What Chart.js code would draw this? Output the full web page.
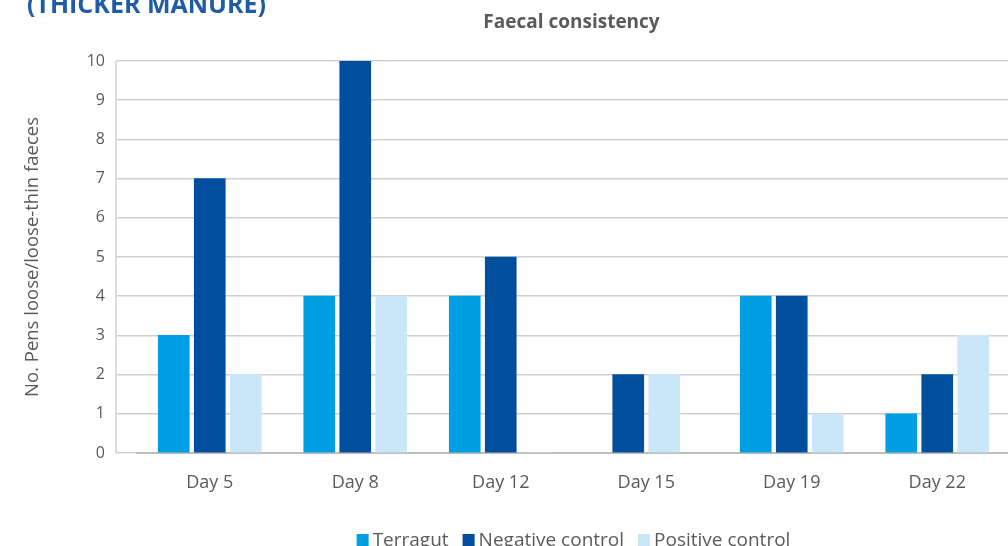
<!DOCTYPE html>
<html>
<head>
<meta charset="utf-8">
<script src="https://cdn.jsdelivr.net/npm/chart.js@4.4.1/dist/chart.umd.min.js"></script>
<style>
  html, body { margin: 0; padding: 0; background: #fff; overflow: hidden; }
  #wrap { position: relative; width: 1012px; height: 546px; }
</style>
</head>
<body>
<div id="wrap"><canvas id="c"></canvas></div>
<script>
'use strict';

// Faecal consistency: pens with loose / loose-thin faeces per treatment.
// Terragut has no value on Day 15 (null), so the two remaining bars of that
// day sit centred on the label; a 0 (Day 12 positive) keeps its slot.

const DAYS       = ['Day 5', 'Day 8', 'Day 12', 'Day 15', 'Day 19', 'Day 22'];
const TERRAGUT   = [3, 4, 4, null, 4, 1];
const NEGATIVE   = [7, 10, 5, 2, 4, 2];
const POSITIVE   = [2, 4, 0, 2, 1, 3];
const SERIES     = ['Terragut', 'Negative control', 'Positive control'];
const COLORS     = ['#009fe3', '#004f9f', '#c9e7f8'];
const Y_TICKS    = [0, 1, 2, 3, 4, 5, 6, 7, 8, 9, 10];

const FONT = '"Open Sans", "DejaVu Sans", sans-serif';
const TEXT = '#5a5a5a';
const GRID = '#d0d0d0';
const SLOT = 0.2474;   // distance between neighbouring bars, in day units

// place each present bar of a day around the day's index
const ALL = [TERRAGUT, NEGATIVE, POSITIVE];
function pointsFor(si) {
  return DAYS.map((_, d) => {
    const present = ALL.map((s, k) => s[d] != null ? k : -1).filter(k => k >= 0);
    const rank = present.indexOf(si);
    if (rank < 0) return {x: d, y: null};
    return {x: d + (rank - (present.length - 1) / 2) * SLOT, y: ALL[si][d]};
  });
}

// ── Text drawn over the chart area (title, header remnant, legend) ──────
const decorPlugin = {
  id: 'decor',
  afterDraw(chart) {
    const {ctx, chartArea} = chart;
    const mid = (chartArea.left + chartArea.right) / 2;
    ctx.save();

    // cut-off section header above the chart
    ctx.font = 'bold 25px ' + FONT;
    ctx.fillStyle = '#1f5ca5';
    ctx.textAlign = 'left';
    ctx.textBaseline = 'alphabetic';
    ctx.fillText('(THICKER MANURE)', 27, 13);

    // chart title
    ctx.font = 'bold 19px ' + FONT;
    ctx.fillStyle = TEXT;
    ctx.textAlign = 'center';
    ctx.textBaseline = 'middle';
    ctx.fillText('Faecal consistency', mid - 2, 23);

    // legend along the bottom
    ctx.font = '19px ' + FONT;
    ctx.textAlign = 'left';
    const gap = 14, box = 12, pad = 4;
    const widths = SERIES.map(s => box + pad + ctx.measureText(s).width);
    const total = widths.reduce((a, b) => a + b, 0) + gap * (SERIES.length - 1);
    let x = mid - total / 2;
    const y = 540;
    SERIES.forEach((s, i) => {
      ctx.fillStyle = COLORS[i];
      ctx.fillRect(x, y - 6, box, box);
      ctx.fillStyle = TEXT;
      ctx.fillText(s, x + box + pad, y + 1);
      x += widths[i] + gap;
    });

    // left frame line of the plot
    ctx.strokeStyle = GRID;
    ctx.lineWidth = 1.5;
    ctx.beginPath();
    ctx.moveTo(116, chartArea.top);
    ctx.lineTo(116, chartArea.bottom);
    ctx.stroke();

    ctx.restore();
  },
};

const ctx = document.getElementById('c').getContext('2d');
new Chart(ctx, {
  type: 'bar',
  data: {
    datasets: SERIES.map((name, i) => ({
      label: name,
      data: pointsFor(i),
      backgroundColor: COLORS[i],
      borderWidth: 0,
      grouped: false,
      barThickness: 31,
    })),
  },
  options: {
    responsive: true,
    maintainAspectRatio: false,
    animation: false,
    layout: {padding: {top: 61, right: 2, bottom: 0, left: 0}},
    plugins: {
      legend: {display: false},
      title: {display: false},
      tooltip: {enabled: false},
    },
    scales: {
      x: {
        type: 'linear',
        min: -0.5, max: DAYS.length - 0.5,
        offset: false,
        afterBuildTicks: s => { s.ticks = DAYS.map((_, i) => ({value: i})); },
        grid: {display: false},
        border: {display: true, color: '#bdbdbd', width: 2},
        ticks: {
          color: TEXT, font: {family: FONT, size: 18}, padding: 11,
          callback: v => DAYS[v],
        },
        afterFit: s => { s.height = 546 - 453; },
      },
      y: {
        min: 0, max: 10,
        afterBuildTicks: s => { s.ticks = Y_TICKS.map(v => ({value: v})); },
        grid: {color: GRID, lineWidth: 1.5, tickLength: 21, tickColor: GRID},
        border: {display: false},
        ticks: {color: TEXT, font: {family: FONT, size: 16}, padding: 11},
        title: {
          display: true, text: 'No. Pens loose/loose-thin faeces',
          color: TEXT, font: {family: FONT, size: 18.5}, padding: {top: 22, bottom: 0},
        },
        afterFit: s => { s.width = 137; },
      },
    },
  },
  plugins: [decorPlugin],
});
</script>
</body>
</html>
